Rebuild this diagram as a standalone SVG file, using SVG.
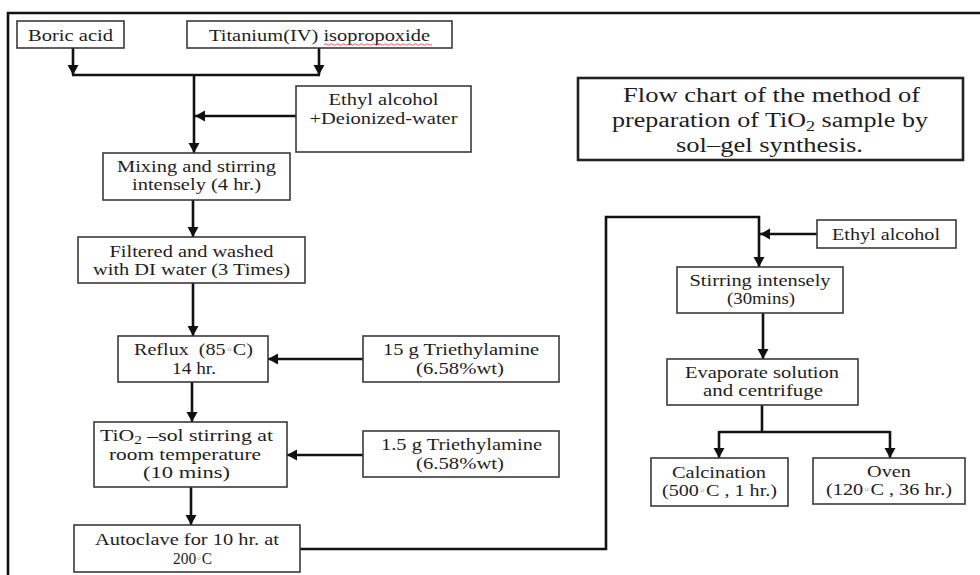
<svg xmlns="http://www.w3.org/2000/svg" width="980" height="575" viewBox="0 0 980 575">
<style>
.box{fill:#fff;stroke:#3a3a3a;stroke-width:1.6}
.tbox{fill:#fff;stroke:#222;stroke-width:2.6}
.t{font-family:"Liberation Serif","Times New Roman",serif;font-size:16.5px;fill:#1e1e1e;text-anchor:middle}
.tt{font-family:"Liberation Serif","Times New Roman",serif;font-size:20px;fill:#1e1e1e;text-anchor:middle}
.c{fill:none;stroke:#111;stroke-width:2.6}
.frame{fill:none;stroke:#111;stroke-width:2.6}
.sub{font-size:70%}
.deg{font-family:"DejaVu Sans",sans-serif;font-size:10px}
</style>
<defs>
<marker id="ah" markerUnits="userSpaceOnUse" markerWidth="12" markerHeight="12" refX="10" refY="6" orient="auto">
<path d="M0,0.5 L10,6 L0,11.5 z" fill="#111"/>
</marker>
</defs>
<rect width="980" height="575" fill="#fff"/>
<path class="frame" d="M8,575 V13 H980"/>

<g id="connectors">
<path class="c" d="M73,48 V75" marker-end="url(#ah)"/>
<path class="c" d="M319,48 V75" marker-end="url(#ah)"/>
<path class="c" d="M72,75 H320"/>
<path class="c" d="M194,75 V153" marker-end="url(#ah)"/>
<path class="c" d="M296,116 H195" marker-end="url(#ah)"/>
<path class="c" d="M193,200 V237" marker-end="url(#ah)"/>
<path class="c" d="M193,283 V336" marker-end="url(#ah)"/>
<path class="c" d="M363,359 H268" marker-end="url(#ah)"/>
<path class="c" d="M192,382 V422" marker-end="url(#ah)"/>
<path class="c" d="M363,455 H287" marker-end="url(#ah)"/>
<path class="c" d="M191,487 V525" marker-end="url(#ah)"/>
<path class="c" d="M300,549 H606 V217 H759 V267" marker-end="url(#ah)"/>
<path class="c" d="M817,234 H760" marker-end="url(#ah)"/>
<path class="c" d="M763,313 V359" marker-end="url(#ah)"/>
<path class="c" d="M762,405 V432"/>
<path class="c" d="M719,432 H890"/>
<path class="c" d="M719,431 V458" marker-end="url(#ah)"/>
<path class="c" d="M890,431 V458" marker-end="url(#ah)"/>
</g>

<g id="boric">
<rect class="box" x="17" y="21" width="107" height="27"/>
<text class="t" x="70.5" y="41" textLength="85" lengthAdjust="spacingAndGlyphs">Boric acid</text>
</g>
<g id="ttip">
<rect class="box" x="187" y="21" width="265" height="27"/>
<text class="t" x="319.5" y="41" textLength="221" lengthAdjust="spacingAndGlyphs">Titanium(IV) isopropoxide</text>
<path d="M324,44.5 q1.5,-1.5 3,0 t3,0 t3,0 t3,0 t3,0 t3,0 t3,0 t3,0 t3,0 t3,0 t3,0 t3,0 t3,0 t3,0 t3,0 t3,0 t3,0 t3,0 t3,0 t3,0 t3,0 t3,0 t3,0 t3,0 t3,0 t3,0 t3,0 t3,0 t3,0 t3,0 t3,0 t3,0 t3,0 t3,0 t3,0 t3,0" fill="none" stroke="#e04848" stroke-width="0.9"/>
</g>
<g id="ethyl-water">
<rect class="box" x="296" y="86" width="175" height="66"/>
<text class="t" x="383.5" y="105" textLength="110" lengthAdjust="spacingAndGlyphs">Ethyl alcohol</text>
<text class="t" x="383.5" y="124" textLength="148" lengthAdjust="spacingAndGlyphs">+Deionized-water</text>
</g>
<g id="mixing">
<rect class="box" x="103" y="153" width="187" height="47"/>
<text class="t" x="196.5" y="172" textLength="159" lengthAdjust="spacingAndGlyphs">Mixing and stirring</text>
<text class="t" x="196.5" y="190" textLength="129" lengthAdjust="spacingAndGlyphs">intensely (4 hr.)</text>
</g>
<g id="filtered">
<rect class="box" x="78" y="237" width="227" height="46"/>
<text class="t" x="191.5" y="257" textLength="164" lengthAdjust="spacingAndGlyphs">Filtered and washed</text>
<text class="t" x="191.5" y="275" textLength="197" lengthAdjust="spacingAndGlyphs">with DI water (3 Times)</text>
</g>
<g id="reflux">
<rect class="box" x="118" y="336" width="150" height="46"/>
<text class="t" x="193.5" y="355" xml:space="preserve" textLength="119" lengthAdjust="spacingAndGlyphs">Reflux  (85<tspan class="deg" dy="-2">◦</tspan><tspan dy="2">C)</tspan></text>
<text class="t" x="194" y="374" textLength="44" lengthAdjust="spacingAndGlyphs">14 hr.</text>
</g>
<g id="tea15">
<rect class="box" x="363" y="336" width="196" height="46"/>
<text class="t" x="461" y="355" textLength="156" lengthAdjust="spacingAndGlyphs">15 g Triethylamine</text>
<text class="t" x="460" y="374" textLength="88" lengthAdjust="spacingAndGlyphs">(6.58%wt)</text>
</g>
<g id="tio2sol">
<rect class="box" x="94" y="422" width="193" height="65"/>
<text class="t" x="186.5" y="441" textLength="173" lengthAdjust="spacingAndGlyphs">TiO<tspan class="sub" dy="3">2</tspan><tspan dy="-3"> –sol stirring at</tspan></text>
<text class="t" x="185" y="459.5" textLength="152" lengthAdjust="spacingAndGlyphs">room temperature</text>
<text class="t" x="186.5" y="478" textLength="87" lengthAdjust="spacingAndGlyphs">(10 mins)</text>
</g>
<g id="tea1-5">
<rect class="box" x="363" y="431" width="196" height="46"/>
<text class="t" x="461.5" y="450" textLength="161" lengthAdjust="spacingAndGlyphs">1.5 g Triethylamine</text>
<text class="t" x="460" y="469" textLength="88" lengthAdjust="spacingAndGlyphs">(6.58%wt)</text>
</g>
<g id="autoclave">
<rect class="box" x="74" y="525" width="226" height="47"/>
<text class="t" x="187" y="545" textLength="184" lengthAdjust="spacingAndGlyphs">Autoclave for 10 hr. at</text>
<text class="t" x="192.5" y="564" textLength="39" lengthAdjust="spacingAndGlyphs">200<tspan class="deg" dy="-2">◦</tspan><tspan dy="2">C</tspan></text>
</g>
<g id="title">
<rect class="tbox" x="578" y="78" width="385" height="82"/>
<text class="tt" x="771.5" y="102" textLength="297" lengthAdjust="spacingAndGlyphs">Flow chart of the method of</text>
<text class="tt" x="770" y="127" textLength="316" lengthAdjust="spacingAndGlyphs">preparation of TiO<tspan class="sub" dy="4">2</tspan><tspan dy="-4"> sample by</tspan></text>
<text class="tt" x="769.5" y="152" textLength="187" lengthAdjust="spacingAndGlyphs">sol–gel synthesis.</text>
</g>
<g id="ethyl2">
<rect class="box" x="817" y="220" width="139" height="28"/>
<text class="t" x="886" y="240" textLength="108" lengthAdjust="spacingAndGlyphs">Ethyl alcohol</text>
</g>
<g id="stirring">
<rect class="box" x="677" y="267" width="166" height="46"/>
<text class="t" x="760" y="286" textLength="141" lengthAdjust="spacingAndGlyphs">Stirring intensely</text>
<text class="t" x="761" y="304" textLength="68" lengthAdjust="spacingAndGlyphs">(30mins)</text>
</g>
<g id="evaporate">
<rect class="box" x="667" y="359" width="191" height="46"/>
<text class="t" x="762" y="378" textLength="154" lengthAdjust="spacingAndGlyphs">Evaporate solution</text>
<text class="t" x="763" y="396" textLength="120" lengthAdjust="spacingAndGlyphs">and centrifuge</text>
</g>
<g id="calcination">
<rect class="box" x="651" y="458" width="137" height="48"/>
<text class="t" x="719" y="478" textLength="94" lengthAdjust="spacingAndGlyphs">Calcination</text>
<text class="t" x="719.5" y="496" xml:space="preserve" textLength="115" lengthAdjust="spacingAndGlyphs">(500<tspan class="deg" dy="-2">◦</tspan><tspan dy="2">C , 1 hr.)</tspan></text>
</g>
<g id="oven">
<rect class="box" x="813" y="458" width="152" height="46"/>
<text class="t" x="889" y="477" textLength="44" lengthAdjust="spacingAndGlyphs">Oven</text>
<text class="t" x="889" y="495" xml:space="preserve" textLength="126" lengthAdjust="spacingAndGlyphs">(120<tspan class="deg" dy="-2">◦</tspan><tspan dy="2">C , 36 hr.)</tspan></text>
</g>
</svg>
